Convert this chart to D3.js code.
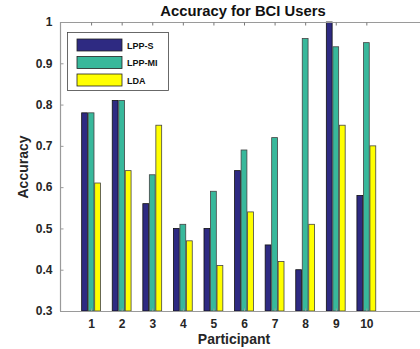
<!DOCTYPE html>
<html><head><meta charset="utf-8">
<script src="https://cdn.jsdelivr.net/npm/d3@7"></script>
<style>body{margin:0;background:#fff}svg{display:block;font-family:"Liberation Sans",Arial,sans-serif}</style>
</head><body>
<script>
const participants = [1,2,3,4,5,6,7,8,9,10];
const seriesNames = ["LPP-S","LPP-MI","LDA"];
const lppS  = [0.78,0.81,0.56,0.50,0.50,0.64,0.46,0.40,1.00,0.58];
const lppMI = [0.78,0.81,0.63,0.51,0.59,0.69,0.72,0.96,0.94,0.95];
const lda   = [0.61,0.64,0.75,0.47,0.41,0.54,0.42,0.51,0.75,0.70];
const yTicks = [0.3,0.4,0.5,0.6,0.7,0.8,0.9,1];
const colors = ["#2e2a82","#38b89b","#ffff00"];
const seriesVals = [lppS, lppMI, lda];

const W=420,H=349;
const m={l:60,t:22,r:427,b:311};
const svg=d3.select("body").append("svg").attr("width",W).attr("height",H);
const x=d3.scaleLinear().domain([0,12]).range([m.l,m.r]);
const y=d3.scaleLinear().domain([0.3,1]).range([m.b,m.t]);
const unit=x(1)-x(0);
const step=0.213*unit, bw=0.19*unit;

seriesVals.forEach((vals,si)=>{
  svg.append("g").selectAll("rect").data(vals).join("rect")
    .attr("x",(d,i)=>x(participants[i])+(si-1)*step-bw/2+0.5)
    .attr("y",d=>y(d))
    .attr("width",bw)
    .attr("height",d=>y(0.3)-y(d))
    .attr("fill",colors[si])
    .attr("stroke",si===0?"#111":"#444")
    .attr("stroke-width",0.8);
});

const axisCol="#9a9a9a";
svg.append("line").attr("x1",m.l).attr("x2",m.r).attr("y1",m.b+0.5).attr("y2",m.b+0.5).attr("stroke",axisCol).attr("stroke-width",1.2);
svg.append("line").attr("x1",m.l).attr("x2",m.r).attr("y1",m.t+0.5).attr("y2",m.t+0.5).attr("stroke",axisCol).attr("stroke-width",1.2);
svg.append("line").attr("x1",m.l+0.5).attr("x2",m.l+0.5).attr("y1",m.t).attr("y2",m.b).attr("stroke",axisCol).attr("stroke-width",1.2);

const yAxis=svg.append("g").attr("transform",`translate(${m.l+0.5},0)`)
  .call(d3.axisLeft(y).tickValues(yTicks).tickSize(-3).tickPadding(8).tickFormat(d=>d===1?"1":d3.format(".1f")(d)));
yAxis.select(".domain").remove();
yAxis.selectAll("line").attr("stroke",axisCol);
yAxis.selectAll("text").attr("font-size",12).attr("font-weight","bold").attr("fill","#262626");

const xAxis=svg.append("g").attr("transform",`translate(0.5,${m.b+0.5})`)
  .call(d3.axisBottom(x).tickValues(participants).tickSize(-3).tickPadding(8).tickFormat(d3.format("d")));
xAxis.select(".domain").remove();
xAxis.selectAll("line").attr("stroke",axisCol);
xAxis.selectAll("text").attr("font-size",12).attr("font-weight","bold").attr("fill","#262626");

const xTop=svg.append("g").attr("transform",`translate(0.5,${m.t+0.5})`)
  .call(d3.axisTop(x).tickValues(participants).tickSize(-3).tickFormat(""));
xTop.select(".domain").remove();
xTop.selectAll("line").attr("stroke","#777");

svg.append("text").attr("x",243).attr("y",16).attr("text-anchor","middle")
  .attr("font-size",14.8).attr("font-weight","bold").attr("fill","#111").text("Accuracy for BCI Users");
svg.append("text").attr("x",234).attr("y",343.5).attr("text-anchor","middle")
  .attr("font-size",14).attr("font-weight","bold").attr("fill","#262626").text("Participant");
svg.append("text").attr("transform","translate(28,167) rotate(-90)").attr("text-anchor","middle")
  .attr("font-size",14).attr("font-weight","bold").attr("fill","#262626").text("Accuracy");

const lg=svg.append("g");
lg.append("rect").attr("x",67.5).attr("y",32.5).attr("width",101).attr("height",58)
  .attr("fill","#fff").attr("stroke","#444").attr("stroke-width",0.8);
seriesNames.forEach((n,i)=>{
  const yy=39+i*17.5;
  lg.append("rect").attr("x",77).attr("y",yy).attr("width",45).attr("height",12)
    .attr("fill",colors[i]).attr("stroke","#222").attr("stroke-width",0.8);
  lg.append("text").attr("x",127).attr("y",yy+9.5).attr("font-size",9).attr("font-weight","bold")
    .attr("fill","#111").text(n);
});
</script>
</body></html>
